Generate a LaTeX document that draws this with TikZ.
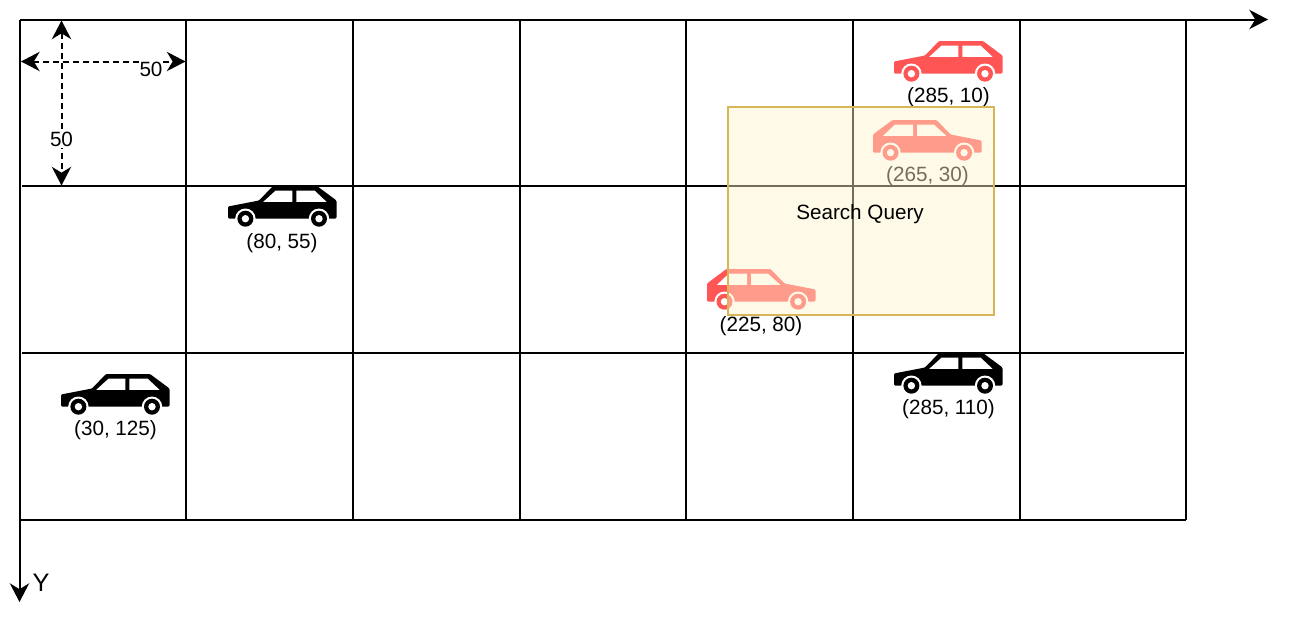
\documentclass[tikz,border=0pt]{standalone}
\usepackage{fontspec}
\setmainfont{Liberation Sans}
\usetikzlibrary{arrows.meta}
\definecolor{carred}{HTML}{FF5555}
\definecolor{qfill}{HTML}{FFF2CC}
\definecolor{qline}{HTML}{D6B656}
\tikzset{
  x=0.75pt,y=-0.75pt,
  tip/.style={-{Stealth[length=14pt,width=14.5pt,inset=4.4pt]}},
  tiptwo/.style={{Stealth[length=14pt,width=14.5pt,inset=4.4pt]}-{Stealth[length=14pt,width=14.5pt,inset=4.4pt]}},
  gridline/.style={line width=1.5pt,black},
  axisline/.style={line width=1.5pt,black,tip},
  dim/.style={line width=1.5pt,black,dash pattern=on 4.6pt off 2.9pt,tiptwo},
  lab/.style={font=\fontsize{15.5pt}{18pt}\selectfont,inner sep=0pt,text=black},
  dimlab/.style={lab,fill=white,inner xsep=0.5pt,inner ysep=1pt},
  query/.style={draw=qline,line width=1.5pt,fill=qfill,fill opacity=0.45,text opacity=1,
    minimum width=200pt,minimum height=156.4pt,inner sep=0pt,
    font=\fontsize{15.5pt}{18pt}\selectfont},
}
% #1 left, #2 top, #3 colour, #4 1 = faces left, -1 = faces right
\newcommand{\carshape}[4]{%
  \begin{scope}[shift={(#1+54.25-54.25*#4,#2)},xscale=#4]
    \fill[#3,rounded corners=0.8pt] (0,20.5) -- (31,14.5) -- (45,0) -- (89,0) -- (108.5,14.5) -- (108.5,32.5) -- (0,32.5) -- cycle;
    \fill[white] (35.3,15.8) -- (47.7,4.5) -- (64.3,4.5) -- (64.3,15.8) -- cycle;
    \fill[white] (68.3,4.5) -- (86.5,4.5) -- (98.5,15.8) -- (68.3,15.8) -- cycle;
    \foreach \wx in {17.4,91}{
      \fill[white] (\wx,32.7) circle[radius=10.2];
      \fill[#3] (\wx,32.7) circle[radius=8];
      \fill[white] (\wx,32.7) circle[radius=3.7];
    }
  \end{scope}}
\begin{document}
\begin{tikzpicture}
\useasboundingbox (0,0) rectangle (1289,625);
\fill[white] (0,0) rectangle (1289,625);
% grid
\coordinate (o) at (19.5,19.5);
\coordinate (xend) at (1268,19.5);
\coordinate (yend) at (19.5,602);
\foreach \gx in {186,353,519.5,686,853,1019.5,1186}{
  \draw[gridline] (\gx,19.5) -- (\gx,519.5);
}
\draw[gridline] (22,186) -- (1186,186);
\draw[gridline] (22,353) -- (1184,353);
\draw[gridline] (19.5,519.5) -- (1186,519.5);
\draw[axisline] (o) -- (xend);
\draw[axisline] (o) -- (yend);
\node[lab,font=\fontsize{19pt}{22pt}\selectfont] (ylab) at (41,583) {Y};
% dimension arrows
\coordinate (dl) at (21,61.5);
\coordinate (dr) at (185.5,61.5);
\coordinate (dt) at (61.5,20.5);
\coordinate (db) at (61.5,185.5);
\draw[dim] (dl) -- (dr);
\draw[dim] (dt) -- (db);
\node[dimlab] (dimx) at (151,69.5) {50};
\node[dimlab] (dimy) at (61.5,139) {50};
% cars
\carshape{894}{41}{carred}{1}
\carshape{873}{120}{carred}{-1}
\carshape{707}{269}{carred}{-1}
\carshape{894}{353}{black}{1}
\carshape{228}{186}{black}{1}
\carshape{61}{374}{black}{1}
% labels
\node[lab] (c1) at (948.5,97.5) {(285, 10)};
\node[lab] (c2) at (927.5,176.5) {(265, 30)};
\node[lab] (c3) at (761,326.5) {(225, 80)};
\node[lab] (c4) at (948.5,409.5) {(285, 110)};
\node[lab] (c5) at (282,243.5) {(80, 55)};
\node[lab] (c6) at (115.5,430.5) {(30, 125)};
% query
\node[query] (q) at (861,211) {};
\node[lab] (qt) at (860,214.5) {Search Query};
\end{tikzpicture}
\end{document}
